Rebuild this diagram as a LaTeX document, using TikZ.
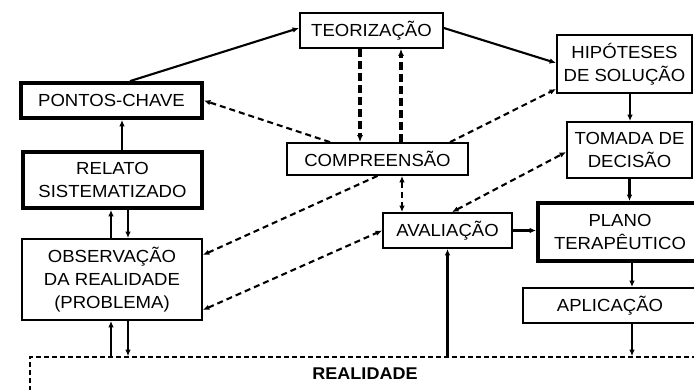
\documentclass[tikz,border=0pt]{standalone}
\usepackage{fontspec}
\setmainfont{Liberation Sans}[FakeStretch=1.06]
\usetikzlibrary{arrows.meta,calc}
\begin{document}
\begin{tikzpicture}[x=1pt,y=-1pt,
  box/.style={draw,line width=1.8pt,inner sep=0pt,align=center,font=\fontsize{17.5}{23}\selectfont},
  tbox/.style={box,line width=3.8pt},
  arr/.style={line width=2.1pt,-{Latex[length=6.5pt,width=5.5pt]}},
  darr/.style={line width=2.1pt,dash pattern=on 6pt off 4pt,-{Latex[length=6.5pt,width=5.5pt]}},
  dbarr/.style={line width=2.1pt,dash pattern=on 6pt off 4pt,{Latex[length=6.5pt,width=5.5pt]}-{Latex[length=6.5pt,width=5.5pt]}},
  vdarr/.style={line width=3.2pt,dash pattern=on 8pt off 4pt,-{Latex[length=7pt,width=6pt]}},
]
\useasboundingbox (0,0) rectangle (694,389);
\fill[white] (0,0) rectangle (694,389);
\clip (0,0) rectangle (694,389);

\node[box] (teo) at (371.5,30.5) [minimum width=143pt,minimum height=35pt] {TEORIZAÇÃO};
\node[tbox] (pc) at (111.5,100.5) [minimum width=181pt,minimum height=35pt] {PONTOS-CHAVE};
\node[tbox] (rel) at (112.5,180) [minimum width=179pt,minimum height=56pt] {RELATO\\SISTEMATIZADO};
\node[box] (obs) at (112,279.5) [minimum width=180pt,minimum height=81pt] {OBSERVAÇÃO\\DA REALIDADE\\(PROBLEMA)};
\node[box] (comp) at (377.5,159) [minimum width=181pt,minimum height=32pt] {COMPREENSÃO};
\node[box] (hip) at (624.5,64) [minimum width=135pt,minimum height=58pt] {HIPÓTESES\\DE SOLUÇÃO};
\node[box] (tom) at (629.5,150) [minimum width=125pt,minimum height=56pt] {TOMADA DE\\DECISÃO};
\node[box] (ava) at (447.5,230.5) [minimum width=129pt,minimum height=35pt] {AVALIAÇÃO};
\node[tbox] (plano) at (620,232) [minimum width=164pt,minimum height=58pt] {PLANO\\TERAPÊUTICO};
\node[box] (apl) at (610,305.5) [minimum width=174pt,minimum height=35pt] {APLICAÇÃO};
\node[draw,line width=1.6pt,dash pattern=on 5pt off 3pt,inner sep=0pt,minimum width=690pt,minimum height=63pt] (real) at (375,388.5) {};
\node[font=\fontsize{17}{20}\selectfont\bfseries] (reallabel) at (365,374) {REALIDADE};

% solid connectors
\draw[arr] ([xshift=18.5]pc.north) -- ([yshift=2.5]teo.west);
\draw[arr] ([yshift=2.5]teo.east) -- ([yshift=1]hip.west);
\draw[arr] ([xshift=5.5]hip.south) -- ([xshift=5.5]hip.south |- tom.north);
\draw[arr] (tom.south) -- (tom.south |- plano.north);
\draw[arr,line width=2.8pt] (ava.east) -- (ava.east -| plano.west);
\draw[arr] ([xshift=12]plano.south) -- ([xshift=12]plano.south |- apl.north);
\draw[arr] ([xshift=22]apl.south) -- ([xshift=22]apl.south |- real.north);
\draw[arr,line width=3pt] (ava.south |- real.north) -- (ava.south);
\draw[arr] ([xshift=-1]obs.south |- real.north) -- ([xshift=-1]obs.south);
\draw[arr] ([xshift=16]obs.south) -- ([xshift=16]obs.south |- real.north);
\draw[arr] ([xshift=-1]obs.north) -- ([xshift=-1]obs.north |- rel.south);
\draw[arr] ([xshift=16]obs.north |- rel.south) -- ([xshift=16]obs.north);
\draw[arr] ([xshift=9.5]rel.north) -- ([xshift=9.5]rel.north |- pc.south);

% dashed connectors
\draw[vdarr] ([xshift=-11.5]teo.south) -- ([xshift=-11.5]teo.south |- comp.north);
\draw[vdarr] ([xshift=23.5]comp.north) -- ([xshift=23.5]comp.north |- teo.south);
\draw[darr] ([xshift=-47.5]comp.north) -- (pc.east);
\draw[darr] ([xshift=72.5]comp.north) -- ([yshift=-25]hip.west);
\draw[darr] (comp.south) -- ([yshift=24.5]obs.east);
\draw[dbarr] ([yshift=-30.5]obs.east) -- (ava.west);
\draw[dbarr] ([xshift=24.5]comp.south) -- ([xshift=24.5]comp.south |- ava.north);
\draw[dbarr] ([xshift=4.5]ava.north) -- ([yshift=-2]tom.west);
\end{tikzpicture}
\end{document}
